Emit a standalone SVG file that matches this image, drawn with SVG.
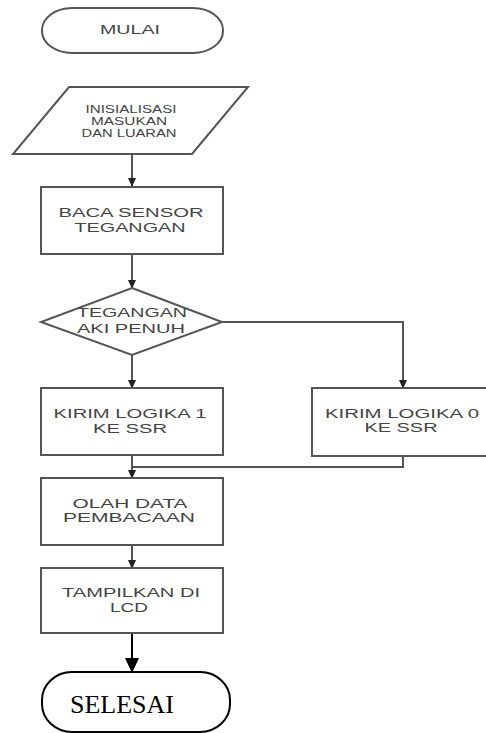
<svg xmlns="http://www.w3.org/2000/svg" width="486" height="733" viewBox="0 0 486 733">
<defs>
<style>
.shape{fill:#fff;stroke:#555;stroke-width:2}
.line{fill:none;stroke:#555;stroke-width:2}
.t{font-family:"Liberation Sans",Arial,sans-serif;fill:#444;text-anchor:middle}
</style>
<marker id="ah" markerWidth="9" markerHeight="8" refX="8" refY="4" orient="auto" markerUnits="userSpaceOnUse">
<path d="M0,0 L9,4 L0,8 Z" fill="#222"/>
</marker>
<marker id="ahb" markerWidth="15" markerHeight="14" refX="14" refY="7" orient="auto" markerUnits="userSpaceOnUse">
<path d="M0,0 L15,7 L0,14 Z" fill="#000"/>
</marker>
</defs>
<rect width="486" height="733" fill="#fff"/>
<g id="connectors">
<path class="line" d="M132,154 V186" marker-end="url(#ah)"/>
<path class="line" d="M132,254 V288" marker-end="url(#ah)"/>
<path class="line" d="M132,355 V388" marker-end="url(#ah)"/>
<path class="line" d="M222,322 H403 V388" marker-end="url(#ah)"/>
<path class="line" d="M132,456 V478" marker-end="url(#ah)"/>
<path class="line" d="M403,456 V467 H132"/>
<path class="line" d="M132,545 V568" marker-end="url(#ah)"/>
<path fill="none" stroke="#000" stroke-width="2" d="M132,633 V672" marker-end="url(#ahb)"/>
</g>
<g id="mulai">
<rect class="shape" x="42" y="8" width="181" height="45" rx="30" ry="22"/>
<text class="t" x="130" y="34" font-size="12" textLength="60" lengthAdjust="spacingAndGlyphs">MULAI</text>
</g>
<g id="inisialisasi">
<polygon class="shape" points="69,87 248,87 192,154 13,154"/>
<text class="t" x="131" y="113" font-size="10" textLength="91" lengthAdjust="spacingAndGlyphs">INISIALISASI</text>
<text class="t" x="129" y="125" font-size="10" textLength="76" lengthAdjust="spacingAndGlyphs">MASUKAN</text>
<text class="t" x="129" y="137" font-size="10" textLength="95" lengthAdjust="spacingAndGlyphs">DAN LUARAN</text>
</g>
<g id="baca">
<rect class="shape" x="41" y="187" width="182" height="67"/>
<text class="t" x="131" y="217" font-size="12" textLength="145" lengthAdjust="spacingAndGlyphs">BACA SENSOR</text>
<text class="t" x="130" y="232" font-size="12" textLength="111" lengthAdjust="spacingAndGlyphs">TEGANGAN</text>
</g>
<g id="decision">
<polygon class="shape" points="132,288 222,322 132,355 41,322"/>
<text class="t" x="132" y="317" font-size="13" textLength="110" lengthAdjust="spacingAndGlyphs">TEGANGAN</text>
<text class="t" x="131" y="333" font-size="13" textLength="108" lengthAdjust="spacingAndGlyphs">AKI PENUH</text>
</g>
<g id="logika1">
<rect class="shape" x="41" y="388" width="182" height="67"/>
<text class="t" x="130" y="418" font-size="12" textLength="153" lengthAdjust="spacingAndGlyphs">KIRIM LOGIKA 1</text>
<text class="t" x="130" y="433" font-size="12" textLength="74" lengthAdjust="spacingAndGlyphs">KE SSR</text>
</g>
<g id="logika0">
<rect class="shape" x="312" y="388" width="182" height="68"/>
<text class="t" x="402" y="418" font-size="12" textLength="154" lengthAdjust="spacingAndGlyphs">KIRIM LOGIKA 0</text>
<text class="t" x="401" y="432" font-size="12" textLength="73" lengthAdjust="spacingAndGlyphs">KE SSR</text>
</g>
<g id="olah">
<rect class="shape" x="41" y="478" width="182" height="67"/>
<text class="t" x="130" y="508" font-size="12" textLength="115" lengthAdjust="spacingAndGlyphs">OLAH DATA</text>
<text class="t" x="129" y="522" font-size="12" textLength="132" lengthAdjust="spacingAndGlyphs">PEMBACAAN</text>
</g>
<g id="tampilkan">
<rect class="shape" x="41" y="568" width="182" height="65"/>
<text class="t" x="131" y="597" font-size="12" textLength="138" lengthAdjust="spacingAndGlyphs">TAMPILKAN DI</text>
<text class="t" x="129" y="612" font-size="12" textLength="38" lengthAdjust="spacingAndGlyphs">LCD</text>
</g>
<g id="selesai">
<rect x="42" y="672" width="188" height="60" rx="30" ry="28" fill="#fff" stroke="#000" stroke-width="2"/>
<text x="122" y="713" font-family="'Liberation Serif','Times New Roman',serif" font-size="26" text-anchor="middle" fill="#000">SELESAI</text>
</g>
</svg>
